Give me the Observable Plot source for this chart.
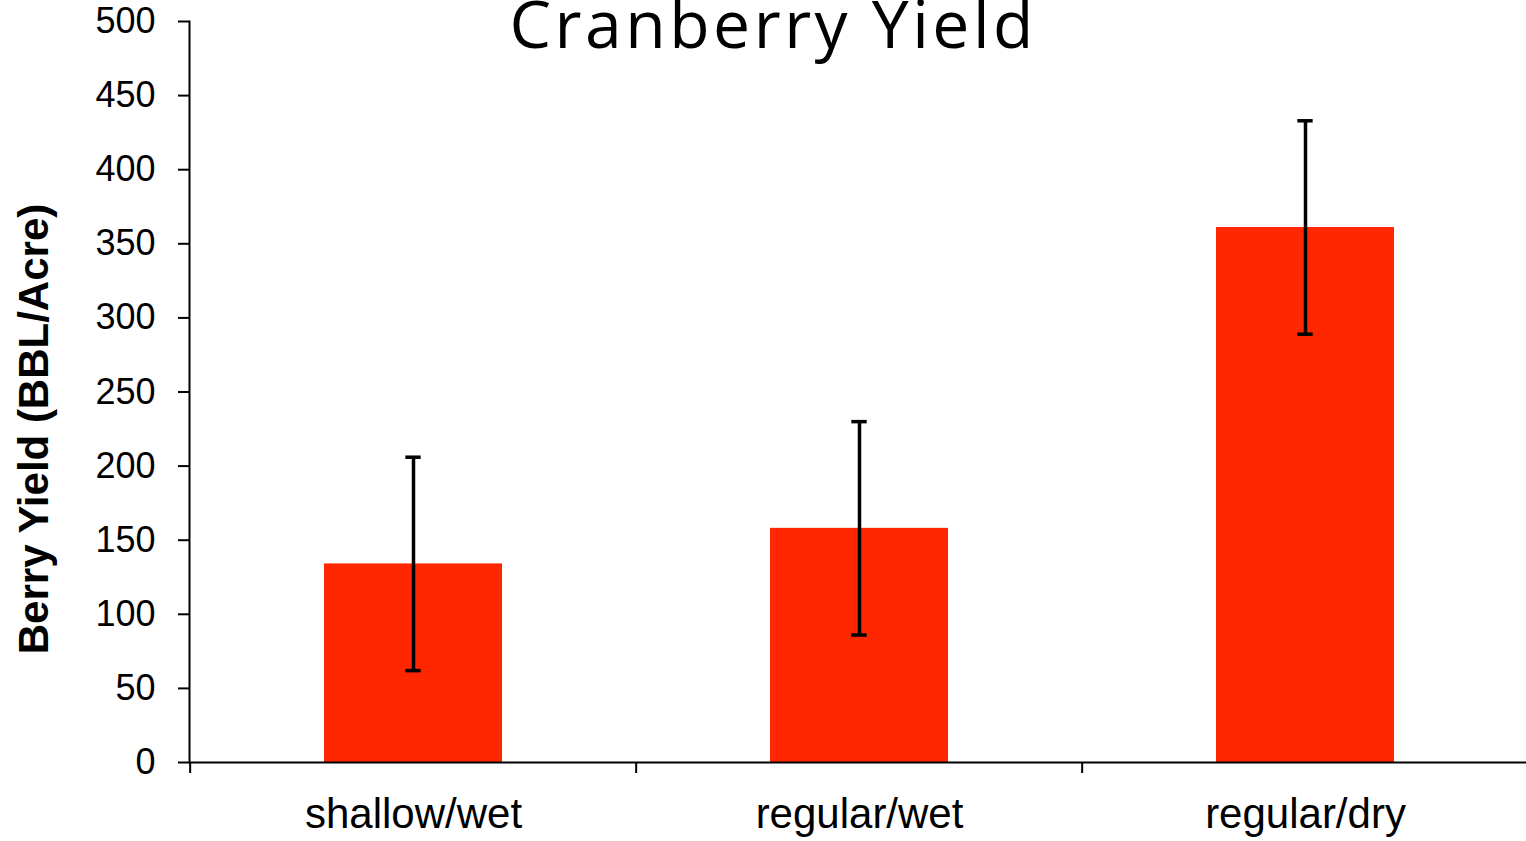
<!DOCTYPE html>
<html>
<head>
<meta charset="utf-8">
<script src="https://cdn.jsdelivr.net/npm/d3@7"></script>
<script src="https://cdn.jsdelivr.net/npm/@observablehq/plot@0.6"></script>
<style>
  html, body { margin: 0; padding: 0; background: #fff; }
  #chart { width: 1526px; height: 841px; overflow: hidden; }
  .chart-title text { letter-spacing: 3.5px; }
</style>
</head>
<body>
<div id="chart"></div>
<script>
const title = "Cranberry Yield";
const yLabel = "Berry Yield (BBL/Acre)";
const categories = ["shallow/wet", "regular/wet", "regular/dry"];
const means = [134, 158, 361];
const errors = [72, 72, 72];
const yTicks = [0, 50, 100, 150, 200, 250, 300, 350, 400, 450, 500];

const data = categories.map((c, i) => ({cat: c, mean: means[i], lo: means[i] - errors[i], hi: means[i] + errors[i]}));

const W = 1526, H = 841;
const mL = 189, mR = -3, mT = 21, mB = 79;
const step = (W - mL - mR) / categories.length;
const bw = step * 0.4;
const capW = 16;
const capInset = (bw - capW) / 2;
const frameCx = mL + (W - mL - mR) / 2;

const chart = Plot.plot({
  width: W,
  height: H,
  marginLeft: mL,
  marginRight: mR,
  marginTop: mT,
  marginBottom: mB,
  style: {fontFamily: "'Liberation Sans', Arial, sans-serif", color: "#000", background: "#fff", overflow: "visible"},
  x: {domain: categories, paddingInner: 0.6, paddingOuter: 0.3, label: null},
  y: {domain: [0, 500], label: null},
  marks: [
    Plot.barY(data, {x: "cat", y: "mean", fill: "#ff2700"}),
    Plot.ruleX(data, {x: "cat", y1: "lo", y2: "hi", stroke: "#000", strokeWidth: 3.5}),
    Plot.tickY(data, {x: "cat", y: "hi", stroke: "#000", strokeWidth: 3.5, insetLeft: capInset, insetRight: capInset}),
    Plot.tickY(data, {x: "cat", y: "lo", stroke: "#000", strokeWidth: 3.5, insetLeft: capInset, insetRight: capInset}),
    Plot.ruleY([0], {stroke: "#000", strokeWidth: 2}),
    Plot.frame({anchor: "left", stroke: "#000", strokeWidth: 2}),
    Plot.axisY({ticks: yTicks, tickSize: 11, tickPadding: 23, fontSize: 36, strokeWidth: 2, label: null, tickFormat: d => String(d)}),
    Plot.axisX({tickSize: 11, dx: -step / 2, tickFormat: () => "", strokeWidth: 2, label: null}),
    Plot.axisX({tickSize: 0, tickPadding: 36, fontSize: 42, label: null}),
    Plot.text([yLabel], {frameAnchor: "left", textAnchor: "middle", rotate: -90, dx: -155, dy: 37, fontSize: 42, fontWeight: "bold", fill: "#000"}),
    Plot.text([title], {frameAnchor: "top", textAnchor: "middle", lineAnchor: "bottom", dy: 26, dx: 774.5 - frameCx - 1.75, fontSize: 66, fontFamily: "'Open Sans', sans-serif", fill: "#000", className: "chart-title"})
  ]
});
document.getElementById("chart").appendChild(chart);
</script>
</body>
</html>
